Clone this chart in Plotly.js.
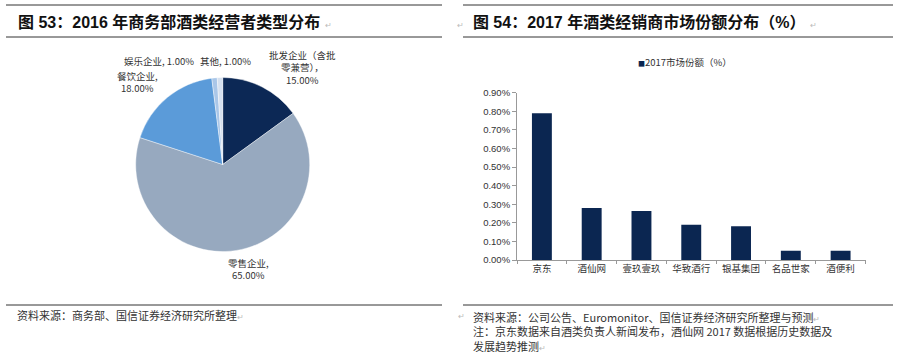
<!DOCTYPE html>
<html><head><meta charset="utf-8">
<script src="https://cdn.plot.ly/plotly-3.0.1.min.js"></script>
<style>html,body{margin:0;padding:0;background:#fff;}#c{width:901px;height:353px;}</style>
</head><body><div id="c"></div>
<script>
// Pie data (Fig 53)
const pieLabels = ['批发企业（含批零兼营）', '零售企业', '餐饮企业', '娱乐企业', '其他'];
const pieValues = [15, 65, 18, 1, 1];
const pieColors = ['#0c2855', '#97a9bf', '#5b9bd9', '#a9c6e8', '#d5e0ef'];

// Bar data (Fig 54)
const barCategories = ['京东', '酒仙网', '壹玖壹玖', '华致酒行', '银基集团', '名品世家', '酒便利'];
const barValues = [0.0079, 0.0028, 0.00263, 0.0019, 0.00181, 0.0005, 0.0005];
const barSeriesName = '2017市场份额（%）';

const W = 901, H = 353;
const px = x => x / W, py = y => 1 - y / H;
const CJK = '"Noto Sans CJK SC", "Liberation Sans", sans-serif';
const TITLEF = '"Liberation Sans", "Noto Sans CJK SC", sans-serif';
const MARK = '<span style="color:#bbb;font-size:8px">↵</span>';

const pieCx = 222.7, pieCy = 164.5, pieR = 87;

const traces = [
  {
    type: 'pie', labels: pieLabels, values: pieValues, sort: false,
    direction: 'clockwise', rotation: 0, textinfo: 'none', hoverinfo: 'label+percent',
    marker: {colors: pieColors, line: {color: '#ffffff', width: 0.4}},
    domain: {x: [px(pieCx - pieR), px(pieCx + pieR)], y: [py(pieCy + pieR), py(pieCy - pieR)]},
    showlegend: false
  },
  {
    type: 'bar', x: barCategories, y: barValues, name: barSeriesName,
    marker: {color: '#0b2651'}, xaxis: 'x', yaxis: 'y', showlegend: false
  }
];

const pct = v => v.toFixed(2) + '%';
const pieText = [
  '批发企业（含批<br>零兼营），<br>' + pct(pieValues[0]),
  pieLabels[1] + ',<br>' + pct(pieValues[1]),
  pieLabels[2] + ',<br>' + pct(pieValues[2]),
  pieLabels[3] + ', ' + pct(pieValues[3]),
  pieLabels[4] + ', ' + pct(pieValues[4])
];
const piePos = [[302, 67, 'center'], [248, 268.5, 'center'], [137, 82, 'center'], [158.5, 61, 'center'], [225, 61, 'center']];

const ann = [];
pieText.forEach((t, i) => {
  ann.push({xref: 'paper', yref: 'paper', x: px(piePos[i][0]), y: py(piePos[i][1]), xanchor: 'center', yanchor: 'middle',
    text: t, showarrow: false, align: piePos[i][2], borderpad: 0, font: {family: CJK, size: 9.5, color: '#333'}});
});
// titles
ann.push({xref: 'paper', yref: 'paper', x: px(16), y: py(22), xanchor: 'left', yanchor: 'middle', showarrow: false,
  text: '<b>图 53：2016 年商务部酒类经营者类型分布</b> ' + MARK, font: {family: TITLEF, size: 16, color: '#111'}});
ann.push({xref: 'paper', yref: 'paper', x: px(455), y: py(22), xanchor: 'left', yanchor: 'middle', showarrow: false,
  text: MARK + '  <b>图 54：2017 年酒类经销商市场份额分布（%）</b> ' + MARK, font: {family: TITLEF, size: 16, color: '#111'}});
// sources
ann.push({xref: 'paper', yref: 'paper', x: px(16), y: py(315), xanchor: 'left', yanchor: 'middle', showarrow: false,
  borderpad: 0, text: '资料来源：商务部、国信证券经济研究所整理' + MARK, font: {family: CJK, size: 11, color: '#333'}});
ann.push({xref: 'paper', yref: 'paper', x: px(457), y: py(315), xanchor: 'left', yanchor: 'middle', showarrow: false,
  borderpad: 0, text: MARK, font: {family: CJK, size: 11, color: '#333'}});
ann.push({xref: 'paper', yref: 'paper', x: px(472), y: py(308), xanchor: 'left', yanchor: 'top', showarrow: false, align: 'left',
  borderpad: 0, text: '资料来源：公司公告、Euromonitor、国信证券经济研究所整理与预测' + MARK +
    '<br>注：京东数据来自酒类负责人新闻发布，酒仙网 2017 数据根据历史数据及<br>发展趋势推测' + MARK,
  font: {family: CJK, size: 11, color: '#333'}});
// legend
ann.push({xref: 'paper', yref: 'paper', x: px(636), y: py(61.5), xanchor: 'left', yanchor: 'middle', showarrow: false,
  text: '<span style="color:#0b2651;font-size:7px">■</span>' + barSeriesName, font: {family: CJK, size: 9.5, color: '#333'}});

const lines = [[6, 442, 5], [6, 442, 37], [6, 442, 305], [463, 893, 5], [463, 893, 37], [463, 893, 305]];
const shapes = lines.map(l => ({type: 'line', xref: 'paper', yref: 'paper', x0: px(l[0]), x1: px(l[1]), y0: py(l[2]), y1: py(l[2]),
  line: {color: '#333', width: 1}}));

const layout = {
  width: W, height: H, margin: {l: 0, r: 0, t: 0, b: 0}, paper_bgcolor: '#fff', plot_bgcolor: '#fff',
  showlegend: false, bargap: 0.6,
  xaxis: {domain: [px(517), px(865.5)], showline: true, linecolor: '#999', linewidth: 1, ticks: 'outside', tickson: 'boundaries',
    ticklen: 3, tickcolor: '#999', tickfont: {family: CJK, size: 9.5, color: '#333'}, showgrid: false, zeroline: false, fixedrange: true},
  yaxis: {domain: [py(260), py(92.7)], range: [0, 0.009], dtick: 0.001, tickformat: '.2%', showline: true, linecolor: '#999', linewidth: 1,
    ticks: 'outside', ticklen: 4, tickcolor: '#999', tickfont: {family: '"Liberation Sans", sans-serif', size: 9.5, color: '#333'},
    showgrid: false, zeroline: false, fixedrange: true},
  annotations: ann, shapes: shapes
};
Plotly.newPlot('c', traces, layout, {displayModeBar: false, staticPlot: true});
</script></body></html>
